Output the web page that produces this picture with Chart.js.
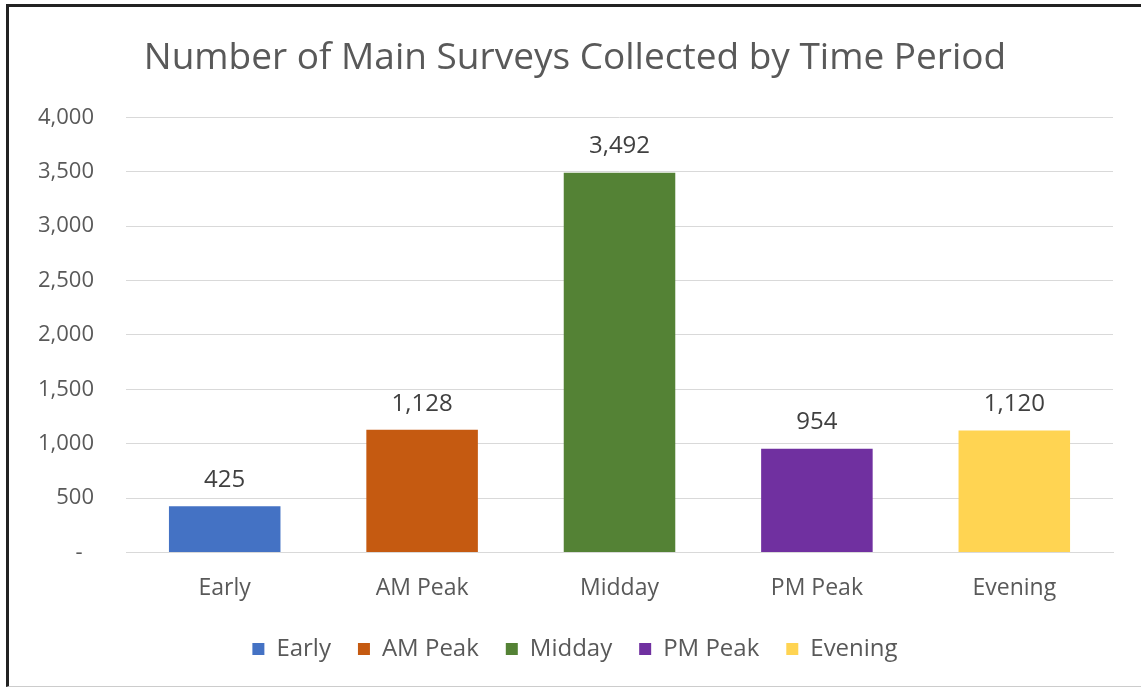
<!DOCTYPE html>
<html>
<head>
<meta charset="utf-8">
<script src="https://cdn.jsdelivr.net/npm/chart.js@4.4.1/dist/chart.umd.min.js"></script>
<style>
  body { margin: 0; background: #fff; }
  .frame {
    position: absolute; left: 6px; top: 4px; width: 1135px; height: 683px;
    border-left: 3px solid #222; border-top: 3px solid #222; border-bottom: 1px solid #ccc;
    box-sizing: border-box;
  }
  .frame canvas { display: block; }
</style>
</head>
<body>
<div class="frame"><canvas id="surveyChart"></canvas></div>
<script>
// time periods and survey counts
const periods = ['Early', 'AM Peak', 'Midday', 'PM Peak', 'Evening']
const surveys = [425, 1128, 3492, 954, 1120]
const barColors = ['#4472C4', '#C55A11', '#548235', '#7030A0', '#FFD452']
const yTicks = [0, 500, 1000, 1500, 2000, 2500, 3000, 3500, 4000]

const textGray = '#595959'
const font = 'Open Sans'

// one dataset per period so the legend shows each one
const datasets = periods.map((name, i) => ({
  label: name,
  data: surveys.map((v, j) => j === i ? v : null),
  backgroundColor: barColors[i],
  grouped: false,
  categoryPercentage: 1,
  barPercentage: 0.565
}))

// value labels above the bars
const valueLabels = {
  id: 'valueLabels',
  afterDatasetsDraw(chart) {
    const ctx = chart.ctx
    ctx.save()
    ctx.font = `24px "${font}"`
    ctx.fillStyle = '#404040'
    ctx.textAlign = 'center'
    ctx.textBaseline = 'bottom'
    chart.data.datasets.forEach((ds, i) => {
      chart.getDatasetMeta(i).data.forEach((bar, j) => {
        if (ds.data[j] == null) return
        ctx.fillText(ds.data[j].toLocaleString('en-US'), bar.x, bar.y - 14)
      })
    })
    ctx.restore()
  }
}

const canvas = document.getElementById('surveyChart')
canvas.width = 1132
canvas.height = 679

new Chart(canvas, {
  type: 'bar',
  data: { labels: periods, datasets: datasets },
  options: {
    responsive: false,
    animation: false,
    layout: { padding: { left: 28, right: 28, top: 27, bottom: 15 } },
    plugins: {
      title: {
        display: true,
        text: 'Number of Main Surveys Collected by Time Period',
        color: textGray,
        font: { family: font, size: 37, weight: 'normal' },
        padding: { top: 2, bottom: 37 }
      },
      legend: {
        position: 'bottom',
        labels: {
          color: textGray,
          font: { family: font, size: 24 },
          boxWidth: 12,
          boxHeight: 12,
          padding: 27
        }
      },
      tooltip: { enabled: false }
    },
    scales: {
      x: {
        grid: { display: false },
        border: { color: '#D9D9D9' },
        ticks: { color: textGray, font: { family: font, size: 23 }, padding: 14 },
        afterFit: axis => { axis.height -= 6 }
      },
      y: {
        min: 0,
        max: 4000,
        afterBuildTicks: axis => { axis.ticks = yTicks.map(v => ({ value: v })) },
        grid: { color: '#D9D9D9', drawTicks: false },
        border: { display: false },
        ticks: {
          color: textGray,
          font: { family: font, size: 22 },
          padding: 32,
          // accounting style: zero shows as a dash
          callback: v => v === 0 ? '-  ' : v.toLocaleString('en-US')
        },
        afterFit: axis => { axis.width -= 31 }
      }
    }
  },
  plugins: [valueLabels]
})
</script>
</body>
</html>
